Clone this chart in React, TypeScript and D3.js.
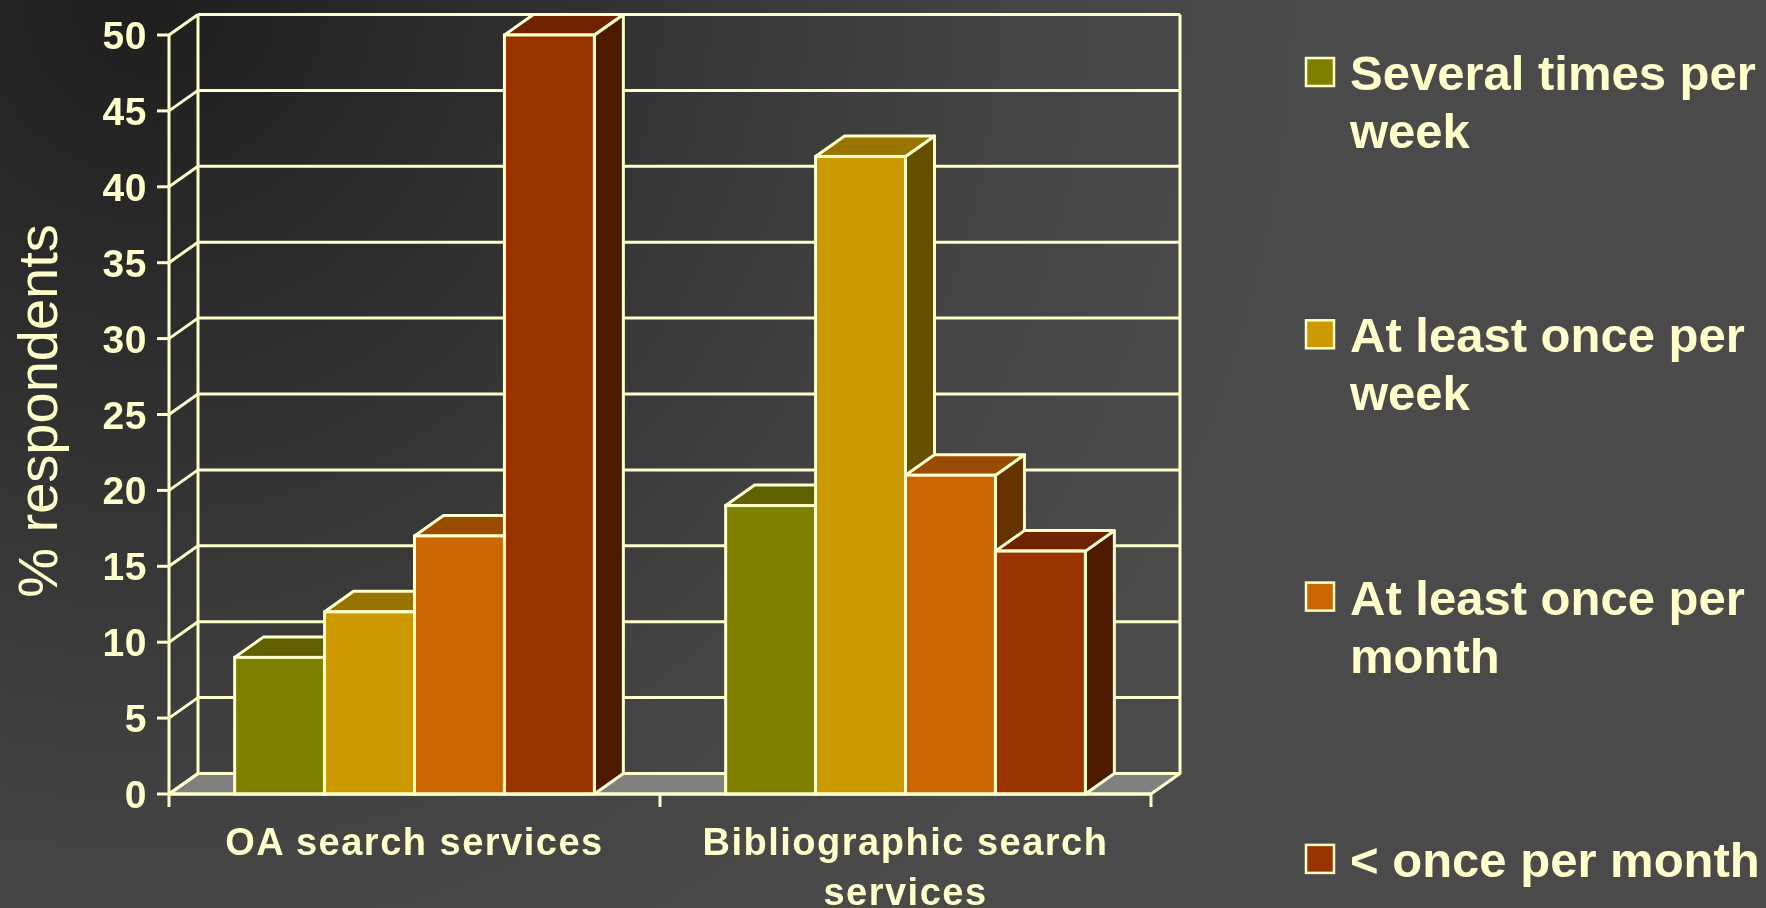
import React from "react";
import * as d3 from "d3";

const categories = ["OA search services", "Bibliographic search services"];
const seriesNames = [
  "Several times per week",
  "At least once per week",
  "At least once per month",
  "< once per month",
];
const legendLines = [
  ["Several times per", "week"],
  ["At least once per", "week"],
  ["At least once per", "month"],
  ["< once per month"],
];
const oaValues = [9, 12, 17, 50];
const biblioValues = [19, 42, 21, 16];
const seriesValues = [oaValues, biblioValues];
const yTicks = [0, 5, 10, 15, 20, 25, 30, 35, 40, 45, 50];

const frontColors = ["#808000", "#CC9900", "#CC6600", "#993300"];
const topColors = ["#606000", "#997300", "#994C00", "#6E2400"];
const sideColors = ["#424200", "#665000", "#663300", "#4D1A00"];

const W = 1766;
const H = 908;
const X0 = 169;
const X1 = 1151;
const YB = 794;
const YT = 35;
const DX = 29;
const DY = -20.5;
const SW = 3;
const CREAM = "#FFFFCC";
const FONT = "'Liberation Sans', Arial, sans-serif";

function wrapText(text: string, maxWidth: number, font: string): string[] {
  const c = document.createElement("canvas").getContext("2d");
  if (!c) return [text];
  c.font = font;
  const words = text.split(" ");
  const lines: string[] = [];
  let cur = "";
  for (const w of words) {
    const t = cur ? cur + " " + w : w;
    if (c.measureText(t).width + t.length * 1.5 > maxWidth && cur) {
      lines.push(cur);
      cur = w;
    } else cur = t;
  }
  if (cur) lines.push(cur);
  return lines;
}

export default function App() {
  const y = d3.scaleLinear().domain([0, 50]).range([YB, YT]);
  const xCat = d3.scaleBand<string>().domain(categories).range([X0, X1]).padding(0);
  const xSer = d3
    .scaleBand<string>()
    .domain(seriesNames)
    .range([0, xCat.bandwidth()])
    .paddingInner(0)
    .paddingOuter(0.73);
  const bw = xSer.bandwidth();

  const poly = (pts: [number, number][]) => d3.line()(pts.concat([pts[0]])) as string;

  const bars: React.ReactNode[] = [];
  categories.forEach((cat, ci) => {
    seriesNames.forEach((s, si) => {
      const v = seriesValues[ci][si];
      const x = (xCat(cat) as number) + (xSer(s) as number);
      const yt = y(v);
      bars.push(
        <g key={cat + s}>
          <path
            d={poly([
              [x + bw, yt],
              [x + bw + DX, yt + DY],
              [x + bw + DX, YB + DY],
              [x + bw, YB],
            ])}
            fill={sideColors[si]}
            stroke={CREAM}
            strokeWidth={SW}
            strokeLinejoin="round"
          />
          <path
            d={poly([
              [x, yt],
              [x + DX, yt + DY],
              [x + bw + DX, yt + DY],
              [x + bw, yt],
            ])}
            fill={topColors[si]}
            stroke={CREAM}
            strokeWidth={SW}
            strokeLinejoin="round"
          />
          <rect
            x={x}
            y={yt}
            width={bw}
            height={YB - yt}
            fill={frontColors[si]}
            stroke={CREAM}
            strokeWidth={SW}
          />
        </g>
      );
    });
  });

  const catFont = `bold 38px ${FONT}`;

  return (
    <svg
      width={W}
      height={H}
      style={{ position: "fixed", left: 0, top: 0, display: "block" }}
      xmlns="http://www.w3.org/2000/svg"
    >
      <defs>
        <radialGradient id="bg" gradientUnits="userSpaceOnUse" cx={150} cy={0} r={1150}>
          <stop offset="0" stopColor="#1e1e1e" />
          <stop offset="0.75" stopColor="#444444" />
          <stop offset="1" stopColor="#4a4a4a" />
        </radialGradient>
      </defs>
      <rect x={0} y={0} width={W} height={H} fill="url(#bg)" />

      {/* floor */}
      <path
        d={poly([
          [X0, YB],
          [X0 + DX, YB + DY],
          [X1 + DX, YB + DY],
          [X1, YB],
        ])}
        fill="#808080"
        stroke={CREAM}
        strokeWidth={SW}
        strokeLinejoin="round"
      />

      {/* walls: gridlines */}
      {yTicks.map((t) => (
        <g key={"g" + t}>
          <line x1={X0 + DX} x2={X1 + DX} y1={y(t) + DY} y2={y(t) + DY} stroke={CREAM} strokeWidth={SW} />
          <line x1={X0} x2={X0 + DX} y1={y(t)} y2={y(t) + DY} stroke={CREAM} strokeWidth={SW} />
        </g>
      ))}
      <line x1={X0 + DX} x2={X0 + DX} y1={y(50) + DY} y2={YB + DY} stroke={CREAM} strokeWidth={SW} />
      <line x1={X1 + DX} x2={X1 + DX} y1={y(50) + DY} y2={YB + DY} stroke={CREAM} strokeWidth={SW} />

      {bars}

      {/* front axis */}
      <line x1={X0} x2={X0} y1={y(50)} y2={YB} stroke={CREAM} strokeWidth={SW} />
      <line x1={X0} x2={X1} y1={YB} y2={YB} stroke={CREAM} strokeWidth={SW} />
      {yTicks.map((t) => (
        <g key={"t" + t}>
          <line x1={X0 - 12} x2={X0} y1={y(t)} y2={y(t)} stroke={CREAM} strokeWidth={SW} />
          <text
            x={X0 - 22}
            y={y(t) + 14}
            textAnchor="end"
            fill={CREAM}
            fontFamily={FONT}
            fontWeight="bold"
            fontSize={39}
            letterSpacing={0.5}
          >
            {t}
          </text>
        </g>
      ))}
      {[X0, ...categories.map((c) => (xCat(c) as number) + xCat.bandwidth())].map((xx, i) => (
        <line key={"xt" + i} x1={xx} x2={xx} y1={YB} y2={YB + 13} stroke={CREAM} strokeWidth={SW} />
      ))}
      {categories.map((c) => {
        const lines = wrapText(c, 440, catFont);
        const cx = (xCat(c) as number) + xCat.bandwidth() / 2;
        return (
          <text
            key={"c" + c}
            textAnchor="middle"
            fill={CREAM}
            fontFamily={FONT}
            fontWeight="bold"
            fontSize={38}
            letterSpacing={1.5}
          >
            {lines.map((l, i) => (
              <tspan key={i} x={cx} y={855 + i * 50}>
                {l}
              </tspan>
            ))}
          </text>
        );
      })}

      {/* y title */}
      <text
        transform={`translate(57,411) rotate(-90)`}
        textAnchor="middle"
        fill={CREAM}
        fontFamily={FONT}
        fontSize={56}
      >
        % respondents
      </text>

      {/* legend */}
      {legendLines.map((lines, i) => {
        const base = 90 + i * 262.3;
        return (
          <g key={"l" + i}>
            <rect
              x={1306}
              y={base - 32}
              width={28}
              height={28}
              fill={frontColors[i]}
              stroke={CREAM}
              strokeWidth={2.5}
            />
            <text fill={CREAM} fontFamily={FONT} fontWeight="bold" fontSize={49}>
              {lines.map((l, j) => (
                <tspan key={j} x={1350} y={base + j * 58}>
                  {l}
                </tspan>
              ))}
            </text>
          </g>
        );
      })}
    </svg>
  );
}
